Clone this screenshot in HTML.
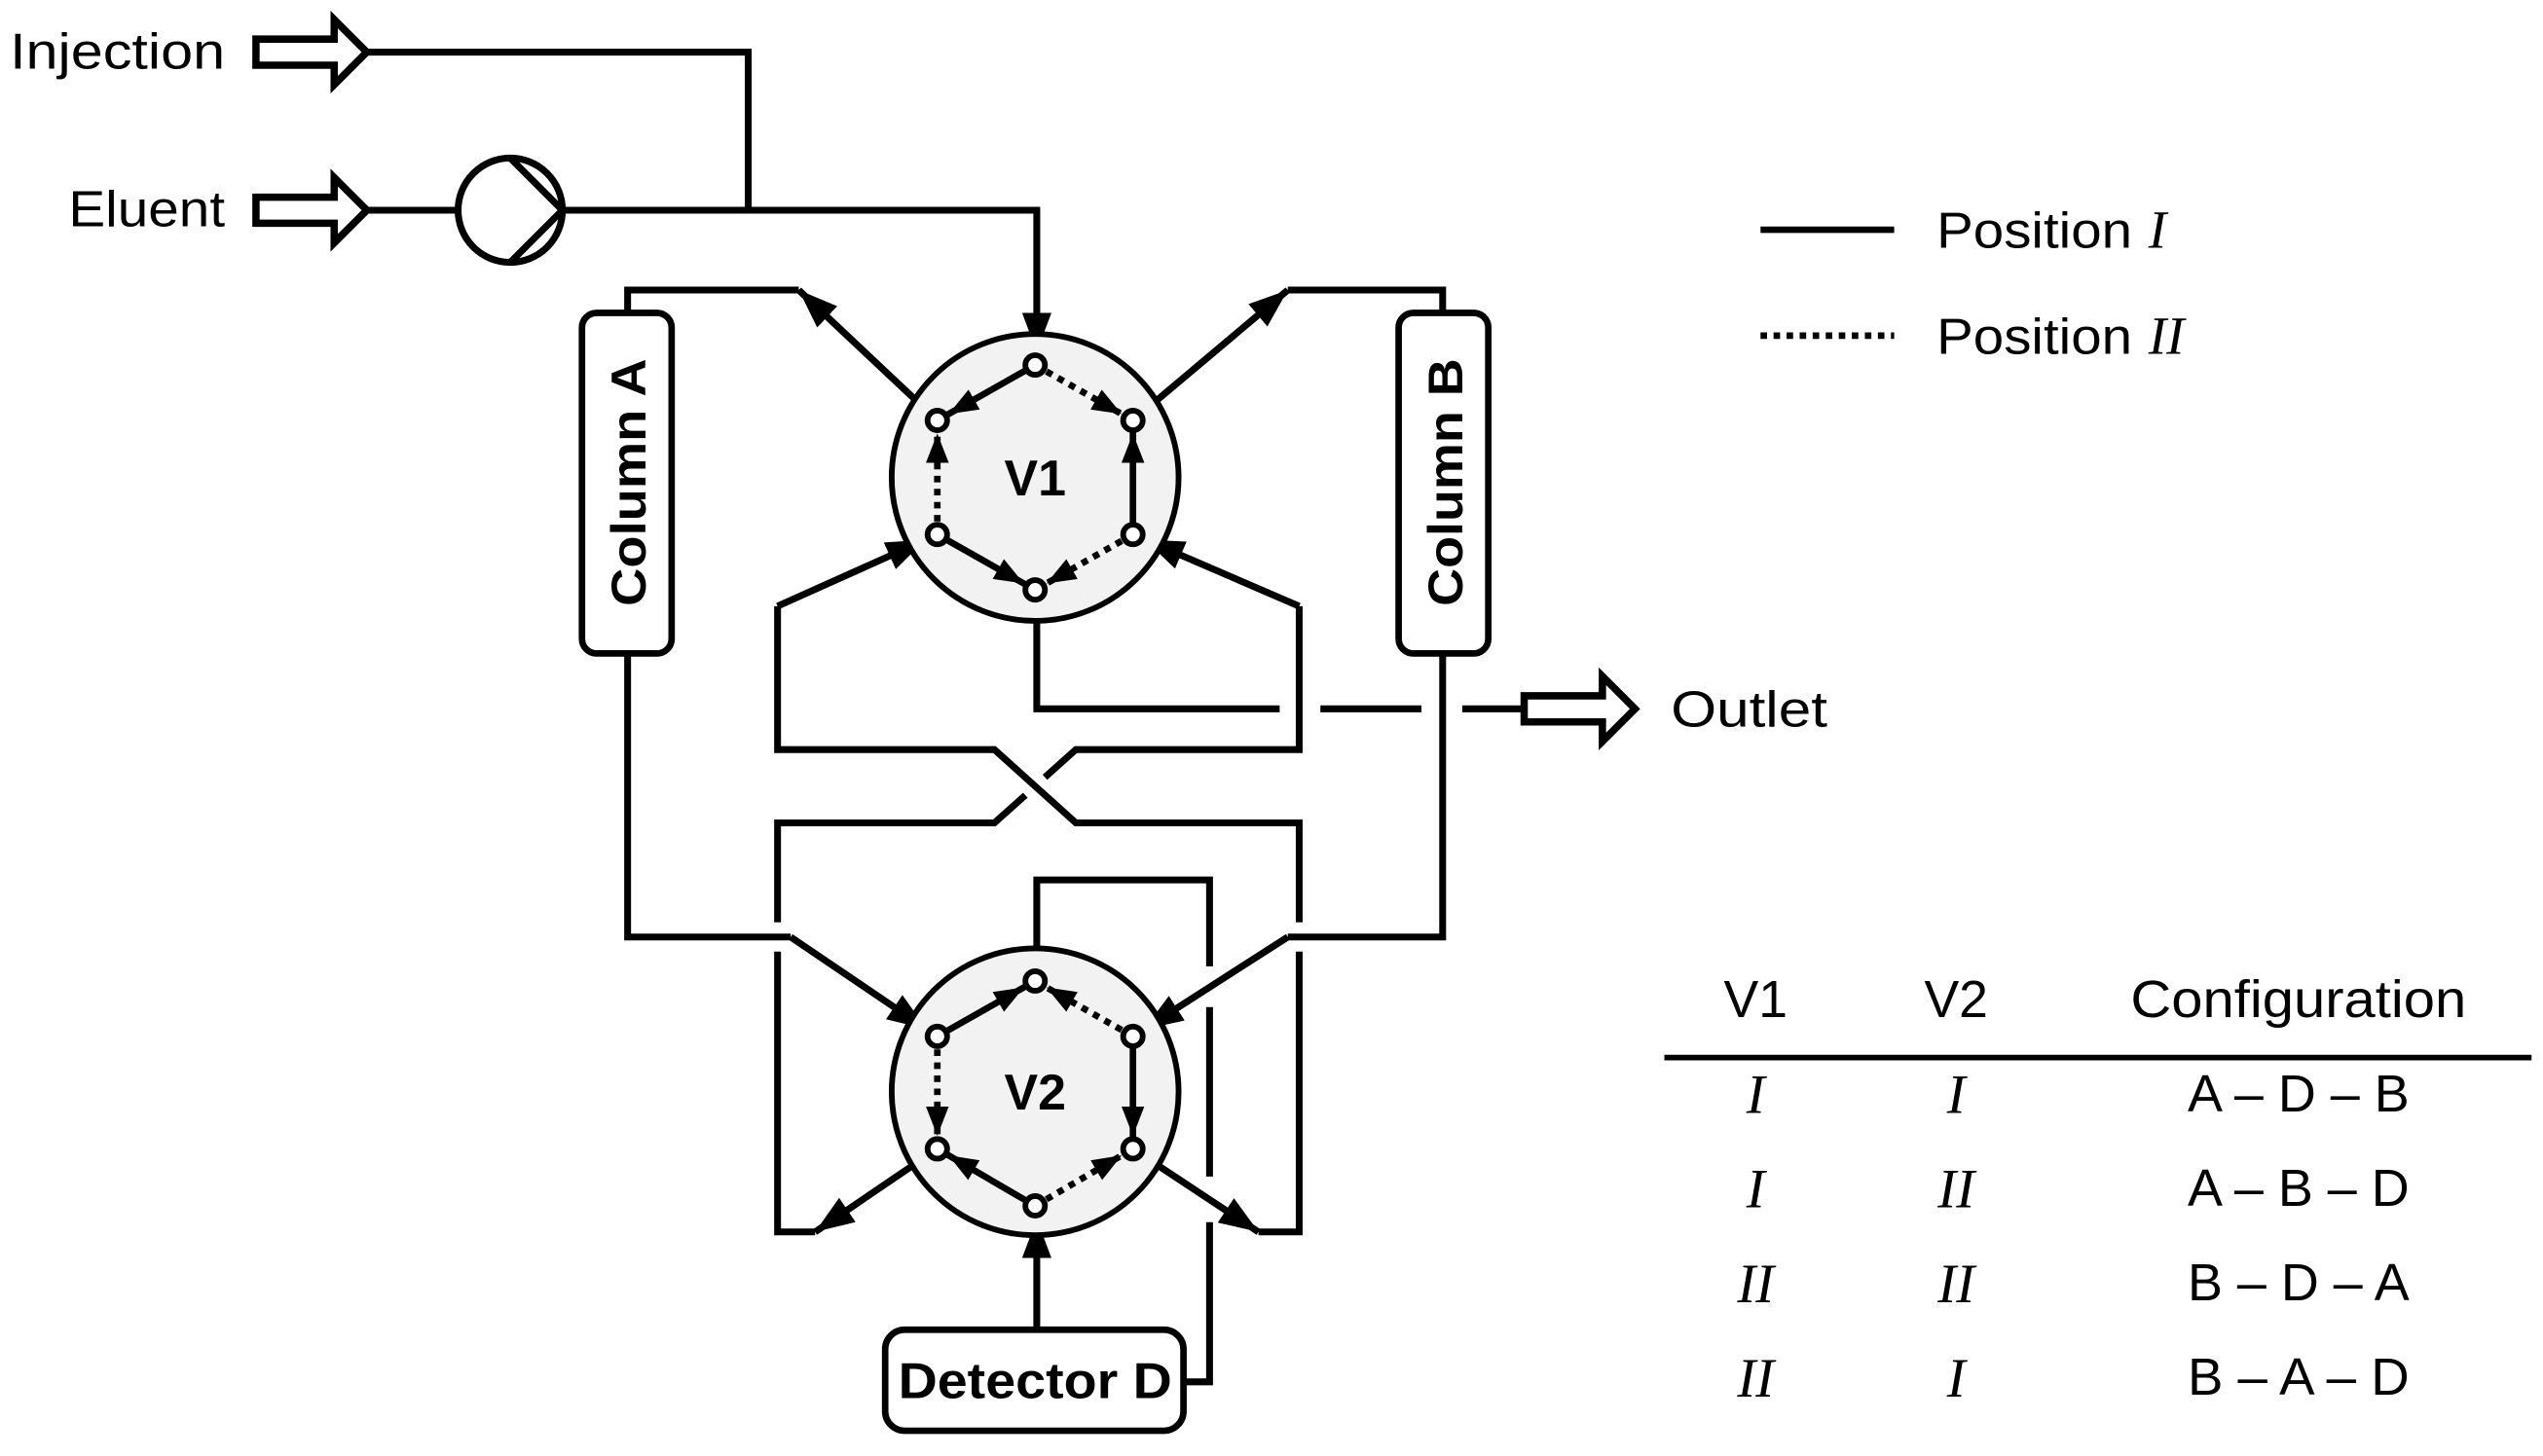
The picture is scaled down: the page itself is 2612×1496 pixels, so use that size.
<!DOCTYPE html>
<html><head><meta charset="utf-8"><style>html,body{margin:0;padding:0;background:#fff}svg{display:block}</style></head>
<body>
<svg width="2612" height="1496" viewBox="0 0 1560 893.5" xmlns="http://www.w3.org/2000/svg" font-family="Liberation Sans, sans-serif">
<defs>
<marker id="a" markerUnits="userSpaceOnUse" markerWidth="26" markerHeight="18" refX="24" refY="9" orient="auto"><path d="M0,0 L24,9 L0,18 z" fill="#000"/></marker>
<marker id="ap" markerUnits="userSpaceOnUse" markerWidth="34" markerHeight="18" refX="32" refY="9" orient="auto"><path d="M0,0 L24,9 L0,18 z" fill="#000"/></marker>
<marker id="s" markerUnits="userSpaceOnUse" markerWidth="28" markerHeight="14" refX="26" refY="7" orient="auto"><path d="M0,0 L18,7 L0,14 z" fill="#000"/></marker>
</defs>
<rect width="1560" height="893.5" fill="#fff"/>
<g fill="none" stroke="#000" stroke-width="4.2">
<polygon points="157,24 205,24 205,12 225,32 205,52 205,40 157,40" stroke-width="4.5" fill="#fff"/>
<polygon points="157,121 205,121 205,109 225,129 205,149 205,137 157,137" stroke-width="4.5" fill="#fff"/>
<polygon points="935,427 983,427 983,415 1003,435 983,455 983,443 935,443" stroke-width="4.5" fill="#fff"/>
<polyline points="225,32 459,32 459,129"/>
<line x1="225" y1="129" x2="281" y2="129"/>
<circle cx="313" cy="129" r="32"/>
<polyline points="313,97 345,129 313,161"/>
<polyline points="345,129 636,129 636,224" marker-end="url(#ap)"/>
<polyline points="385,192 385,178 490,178"/>
<line x1="575" y1="258" x2="490" y2="178" marker-end="url(#a)"/>
<polyline points="385,401 385,575 485,575"/>
<line x1="485" y1="575" x2="575" y2="636" marker-end="url(#ap)"/>
<polyline points="885,192 885,178 790,178"/>
<line x1="695" y1="258" x2="790" y2="178" marker-end="url(#a)"/>
<polyline points="885,401 885,575 790,575"/>
<line x1="790" y1="575" x2="695" y2="636" marker-end="url(#ap)"/>
<polyline points="636,362 636,435 785,435"/>
<line x1="810" y1="435" x2="872" y2="435"/>
<line x1="897" y1="435" x2="935" y2="435"/>
<line x1="477" y1="372" x2="575" y2="328" marker-end="url(#ap)"/>
<polyline points="477,372 477,460 610,460 660,505 797,505 797,566"/>
<polyline points="797,584 797,756 772,756"/>
<line x1="695" y1="705" x2="772" y2="756" marker-end="url(#a)"/>
<line x1="797" y1="372" x2="695" y2="328" marker-end="url(#ap)"/>
<polyline points="797,372 797,460 660,460 641,477"/>
<polyline points="629,488 610,505 477,505 477,566"/>
<polyline points="477,584 477,756 500,756"/>
<line x1="575" y1="705" x2="500" y2="756" marker-end="url(#a)"/>
<polyline points="636,602 636,540 742,540 742,593"/>
<line x1="742" y1="618" x2="742" y2="722"/>
<polyline points="742,750 742,848 726,848"/>
<line x1="636" y1="816" x2="636" y2="740" marker-end="url(#ap)"/>
</g>
<rect x="357" y="192" width="55" height="209" rx="9" fill="#fff" stroke="#000" stroke-width="4"/>
<rect x="858" y="192" width="55" height="209" rx="9" fill="#fff" stroke="#000" stroke-width="4"/>
<text transform="translate(396,296) rotate(-90)" text-anchor="middle" font-size="30" font-weight="bold" textLength="152" lengthAdjust="spacingAndGlyphs">Column A</text>
<text transform="translate(897,296) rotate(-90)" text-anchor="middle" font-size="30" font-weight="bold" textLength="152" lengthAdjust="spacingAndGlyphs">Column B</text>
<rect x="543" y="816" width="183" height="62" rx="12" fill="#fff" stroke="#000" stroke-width="4"/>
<text x="635" y="858" text-anchor="middle" font-size="31" font-weight="bold" textLength="168" lengthAdjust="spacingAndGlyphs">Detector D</text>
<circle cx="635" cy="293" r="88" fill="#f2f2f2" stroke="#000" stroke-width="3.5"/>
<g stroke="#000" stroke-width="4" fill="none">
<line x1="635" y1="224" x2="575" y2="258" marker-end="url(#s)"/>
<line x1="635" y1="224" x2="695" y2="258" marker-end="url(#s)" stroke-dasharray="4,4"/>
<line x1="575" y1="328" x2="575" y2="258" marker-end="url(#s)" stroke-dasharray="4,4"/>
<line x1="695" y1="328" x2="695" y2="258" marker-end="url(#s)"/>
<line x1="575" y1="328" x2="635" y2="362" marker-end="url(#s)"/>
<line x1="695" y1="328" x2="635" y2="362" marker-end="url(#s)" stroke-dasharray="4,4"/>
</g>
<g fill="#fff" stroke="#000" stroke-width="3.5">
<circle cx="635" cy="224" r="6"/><circle cx="575" cy="258" r="6"/><circle cx="695" cy="258" r="6"/>
<circle cx="575" cy="328" r="6"/><circle cx="695" cy="328" r="6"/><circle cx="635" cy="362" r="6"/>
</g>
<text x="635" y="304" text-anchor="middle" font-size="31" font-weight="bold">V1</text>
<circle cx="635" cy="670" r="88" fill="#f2f2f2" stroke="#000" stroke-width="3.5"/>
<g stroke="#000" stroke-width="4" fill="none">
<line x1="575" y1="636" x2="635" y2="602" marker-end="url(#s)"/>
<line x1="695" y1="636" x2="635" y2="602" marker-end="url(#s)" stroke-dasharray="4,4"/>
<line x1="575" y1="636" x2="575" y2="705" marker-end="url(#s)" stroke-dasharray="4,4"/>
<line x1="695" y1="636" x2="695" y2="705" marker-end="url(#s)"/>
<line x1="635" y1="740" x2="575" y2="705" marker-end="url(#s)"/>
<line x1="635" y1="740" x2="695" y2="705" marker-end="url(#s)" stroke-dasharray="4,4"/>
</g>
<g fill="#fff" stroke="#000" stroke-width="3.5">
<circle cx="635" cy="602" r="6"/><circle cx="575" cy="636" r="6"/><circle cx="695" cy="636" r="6"/>
<circle cx="575" cy="705" r="6"/><circle cx="695" cy="705" r="6"/><circle cx="635" cy="740" r="6"/>
</g>
<text x="635" y="681" text-anchor="middle" font-size="31" font-weight="bold">V2</text>
<text x="6" y="42" font-size="31" textLength="132" lengthAdjust="spacingAndGlyphs">Injection</text>
<text x="138" y="139" font-size="31" text-anchor="end" textLength="96" lengthAdjust="spacingAndGlyphs">Eluent</text>
<text x="1025" y="446" font-size="31" textLength="96" lengthAdjust="spacingAndGlyphs">Outlet</text>
<line x1="1080" y1="141" x2="1162" y2="141" stroke="#000" stroke-width="4"/>
<line x1="1080" y1="206" x2="1162" y2="206" stroke="#000" stroke-width="4" stroke-dasharray="4,4"/>
<text x="1188" y="152" font-size="31" textLength="120" lengthAdjust="spacingAndGlyphs">Position</text>
<text x="1318" y="152" font-size="33" font-family="Liberation Serif, serif" font-style="italic">I</text>
<text x="1188" y="217" font-size="31" textLength="120" lengthAdjust="spacingAndGlyphs">Position</text>
<text x="1318" y="217" font-size="33" font-family="Liberation Serif, serif" font-style="italic">II</text>
<g font-size="32" text-anchor="middle">
<text x="1077" y="624">V1</text><text x="1200" y="624">V2</text><text x="1410" y="624" textLength="206" lengthAdjust="spacingAndGlyphs">Configuration</text>
<g font-family="Liberation Serif, serif" font-style="italic" font-size="34">
<text x="1077" y="683">I</text><text x="1200" y="683">I</text>
<text x="1077" y="741">I</text><text x="1200" y="741">II</text>
<text x="1077" y="799">II</text><text x="1200" y="799">II</text>
<text x="1077" y="857">II</text><text x="1200" y="857">I</text>
</g>
<text x="1410" y="682" textLength="136" lengthAdjust="spacingAndGlyphs">A – D – B</text>
<text x="1410" y="740" textLength="136" lengthAdjust="spacingAndGlyphs">A – B – D</text>
<text x="1410" y="798" textLength="136" lengthAdjust="spacingAndGlyphs">B – D – A</text>
<text x="1410" y="856" textLength="136" lengthAdjust="spacingAndGlyphs">B – A – D</text>
</g>
<line x1="1021" y1="649" x2="1553" y2="649" stroke="#000" stroke-width="3.5"/>
</svg>
</body></html>
